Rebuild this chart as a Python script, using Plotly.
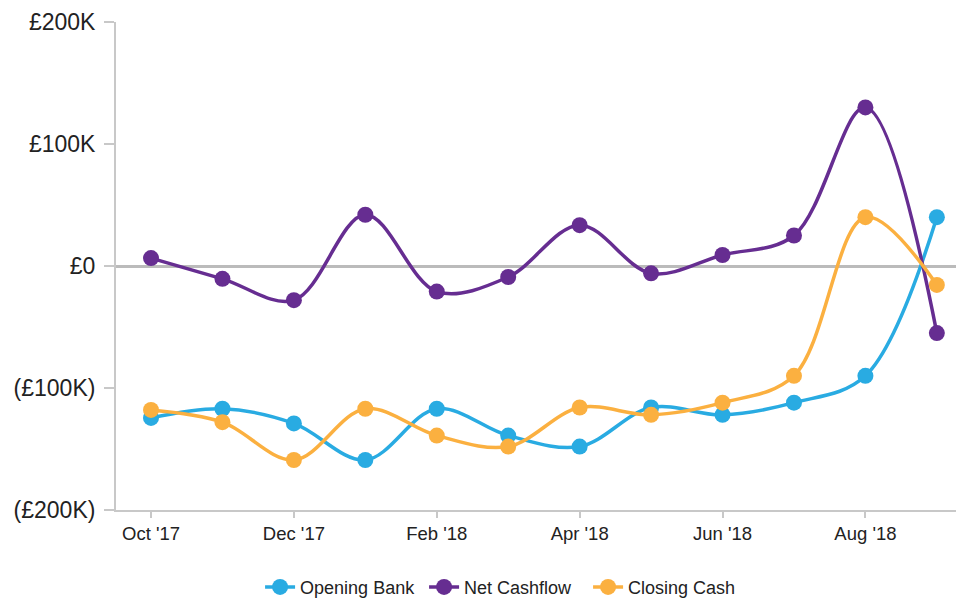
import plotly.graph_objects as go

months = ["Oct '17", "Nov '17", "Dec '17", "Jan '18", "Feb '18", "Mar '18",
          "Apr '18", "May '18", "Jun '18", "Jul '18", "Aug '18", "Sep '18"]

# values in £K
opening_bank = [-124.5, -117, -129, -159, -117, -139, -148, -116, -122, -112, -90, 40]
net_cashflow = [6.5, -10.5, -28, 42, -21, -9, 33.5, -6, 9, 25, 130, -55]
closing_cash = [-118, -128, -159, -117, -139, -148, -116, -122, -112, -90, 40, -15.5]

tick_vals = [200, 100, 0, -100, -200]
tick_text = ["£200K", "£100K", "£0", "(£100K)", "(£200K)"]

series = [
    ("Opening Bank", opening_bank, "#29abe2"),
    ("Net Cashflow", net_cashflow, "#662d91"),
    ("Closing Cash", closing_cash, "#fbb040"),
]

fig = go.Figure()
for name, vals, col in series:
    fig.add_trace(go.Scatter(
        x=months, y=vals, name=name, mode="lines+markers",
        line=dict(color=col, width=3.5, shape="spline", smoothing=1),
        marker=dict(color=col, size=16),
    ))

axis_col = "#c8c8c8"
# page body has an 8px margin, so the figure is sized/offset to compensate
fig.update_layout(
    width=956, height=591,
    margin=dict(l=108, r=0, t=14, b=89),
    paper_bgcolor="white", plot_bgcolor="white",
    font=dict(family="Liberation Sans, Arial, sans-serif", color="#222222", size=18),
    showlegend=True,
    legend=dict(orientation="h", xref="container", x=0.521, xanchor="center",
                yref="container", y=0.02, yanchor="middle",
                font=dict(size=18), itemwidth=30,
                entrywidth=119, entrywidthmode="pixels"),
    xaxis=dict(
        type="category", range=[-0.49, 11.38],
        tickvals=months[::2], showgrid=False, zeroline=False,
        showline=True, linecolor=axis_col, linewidth=2,
        ticks="outside", ticklen=6, tickcolor=axis_col, tickwidth=2,
        tickfont=dict(size=18.5),
    ),
    yaxis=dict(
        range=[-200, 200], tickvals=tick_vals, ticktext=tick_text,
        showgrid=False, zeroline=True, zerolinecolor="#bbbbbb", zerolinewidth=3,
        showline=True, linecolor=axis_col, linewidth=2,
        ticks="outside", ticklen=10, tickcolor=axis_col, tickwidth=2,
        tickfont=dict(size=23), ticklabelstandoff=4,
    ),
)

fig.write_html("out.html")
